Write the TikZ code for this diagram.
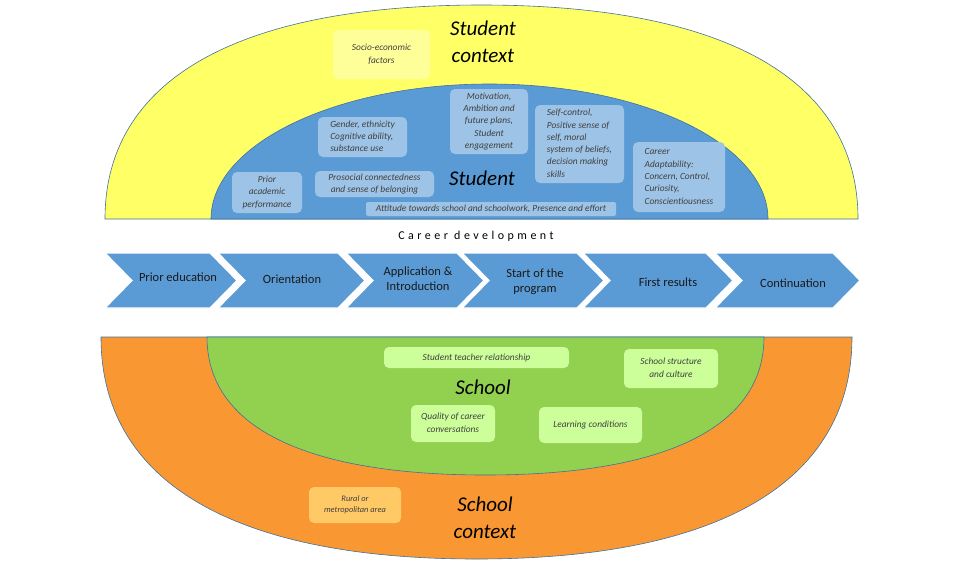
\documentclass[tikz,border=0pt]{standalone}
\usepackage{fontspec}
\setmainfont{Carlito}
\newfontfamily\spacedfont[LetterSpace=29]{Carlito}
\definecolor{edgeblue}{HTML}{41719C}
\definecolor{ctxyellow}{HTML}{FFFF66}
\definecolor{studentblue}{HTML}{5B9BD5}
\definecolor{stageblue}{HTML}{5B9BD5}
\definecolor{ctxorange}{HTML}{F99833}
\definecolor{schoolgreen}{HTML}{92D050}
\definecolor{lightblue}{HTML}{9DC3E6}
\definecolor{lightyellow}{HTML}{FFFF99}
\definecolor{lightgreen}{HTML}{CCFF99}
\definecolor{lightorange}{HTML}{FFC966}
\definecolor{boxtext}{HTML}{404040}

\begin{document}
\begin{tikzpicture}[x=1pt,y=-1pt,
	zone/.style={draw=edgeblue,line width=0.6pt},
	stage/.style={fill=stageblue,draw=white,line width=1.2pt},
	stagelabel/.style={font=\fontsize{12.5}{15}\selectfont,text=black!90},
	zonelabel/.style={font=\itshape\fontsize{21}{27}\selectfont},
	factor/.style={rounded corners=5pt,inner sep=0pt,text=boxtext,font=\itshape\fontsize{9.4}{12.3}\selectfont}]
	\useasboundingbox (0,0) rectangle (960,560);
	
	% upper half: student context and student
	\draw[zone,fill=ctxyellow] (105,219) .. controls (105,80) and (236.8,5) .. (481.5,5) .. controls (726.2,5) and (858,80) .. (858,219) -- cycle;
	\draw[zone,fill=studentblue] (211,219) .. controls (211,144.4) and (335.7,84) .. (489.5,84) .. controls (643.3,84) and (768,144.4) .. (768,219) -- cycle;
	
	\node[zonelabel] (studentcontext) at (483,44){\begin{tabular}{c}Student\\context\end{tabular}};
	\node[factor,fill=lightyellow,minimum width=97pt,minimum height=49pt] (socio) at (381.5,54.5){\begin{tabular}{c}Socio-economic\\factors\end{tabular}};
	
	\node[zonelabel] (student) at (482,178){Student};
	\node[factor,fill=lightblue,minimum width=89pt,minimum height=40pt] (gender) at (362.5,137){\begin{tabular}{l}Gender, ethnicity\\Cognitive ability,\\substance use\end{tabular}};
	\node[factor,fill=lightblue,minimum width=78pt,minimum height=65pt] (motivation) at (489,121.5){\begin{tabular}{c}Motivation,\\Ambition and\\future plans,\\Student\\engagement\end{tabular}};
	\node[factor,fill=lightblue,minimum width=89pt,minimum height=78pt] (selfcontrol) at (579.5,144){\begin{tabular}{l}Self-control,\\Positive sense of\\self, moral\\system of beliefs,\\decision making\\skills\end{tabular}};
	\node[factor,fill=lightblue,minimum width=92pt,minimum height=70pt] (adaptability) at (679,177){\begin{tabular}{l}Career\\Adaptability:\\Concern, Control,\\Curiosity,\\Conscientiousness\end{tabular}};
	\node[factor,fill=lightblue,minimum width=70pt,minimum height=41pt] (prior) at (267,192.5){\begin{tabular}{c}Prior\\academic\\performance\end{tabular}};
	\node[factor,fill=lightblue,minimum width=119pt,minimum height=26pt] (prosocial) at (374.5,184){\begin{tabular}{c}Prosocial connectedness\\and sense of belonging\end{tabular}};
	\node[factor,fill=lightblue,rounded corners=2pt,minimum width=250pt,minimum height=14pt] (attitude) at (491,209){Attitude towards school and schoolwork, Presence and effort};
	
	% career development stages
	\node (careerdev) at (476,236){\spacedfont\fontsize{12}{14}\selectfont Career development};
	
	\draw[stage] (105,253) -- (210,253) -- (237,280.5) -- (210,308) -- (105,308) -- (132,280.5) -- cycle;
	\draw[stage] (218,253) -- (338,253) -- (365,280.5) -- (338,308) -- (218,308) -- (245,280.5) -- cycle;
	\draw[stage] (346,253) -- (457,253) -- (484,280.5) -- (457,308) -- (346,308) -- (373,280.5) -- cycle;
	\draw[stage] (462,253) -- (577,253) -- (604,280.5) -- (577,308) -- (462,308) -- (489,280.5) -- cycle;
	\draw[stage] (583,253) -- (706,253) -- (733,280.5) -- (706,308) -- (583,308) -- (610,280.5) -- cycle;
	\draw[stage] (715,253) -- (833,253) -- (860,280.5) -- (833,308) -- (715,308) -- (742,280.5) -- cycle;
	
	\node[stagelabel] (priored) at (178,277){Prior education};
	\node[stagelabel] (orientation) at (292,279){Orientation};
	\node[stagelabel] (application) at (418,280){\begin{tabular}{c}Application \&\\Introduction\end{tabular}};
	\node[stagelabel] (start) at (535,282){\begin{tabular}{c}Start of the\\program\end{tabular}};
	\node[stagelabel] (firstresults) at (668,282){First results};
	\node[stagelabel] (continuation) at (793,283){Continuation};
	
	% lower half: school context and school
	\draw[zone,fill=ctxorange] (101,337) .. controls (101,481.3) and (232.5,559) .. (476.5,559) .. controls (720.5,559) and (852,481.3) .. (852,337) -- cycle;
	\draw[zone,fill=schoolgreen] (207,337) .. controls (207,426.7) and (304.5,475) .. (485.5,475) .. controls (666.5,475) and (764,426.7) .. (764,337) -- cycle;
	
	\node[zonelabel] (school) at (483,387){School};
	\node[factor,fill=lightgreen,minimum width=185pt,minimum height=21pt] (relation) at (476.5,357.5){Student teacher relationship};
	\node[factor,fill=lightgreen,minimum width=94pt,minimum height=39pt] (structure) at (671,368.5){\begin{tabular}{c}School structure\\and culture\end{tabular}};
	\node[factor,fill=lightgreen,minimum width=84pt,minimum height=37pt] (quality) at (453,423.5){\begin{tabular}{c}Quality of career\\conversations\end{tabular}};
	\node[factor,fill=lightgreen,minimum width=103pt,minimum height=36pt] (learning) at (590.5,425){Learning conditions};
	
	\node[zonelabel] (schoolcontext) at (485,520){\begin{tabular}{c}School\\context\end{tabular}};
	\node[factor,fill=lightorange,font=\itshape\fontsize{8.4}{11}\selectfont,minimum width=92pt,minimum height=36pt] (rural) at (355,505){\begin{tabular}{c}Rural or\\metropolitan area\end{tabular}};
\end{tikzpicture}
\end{document}
